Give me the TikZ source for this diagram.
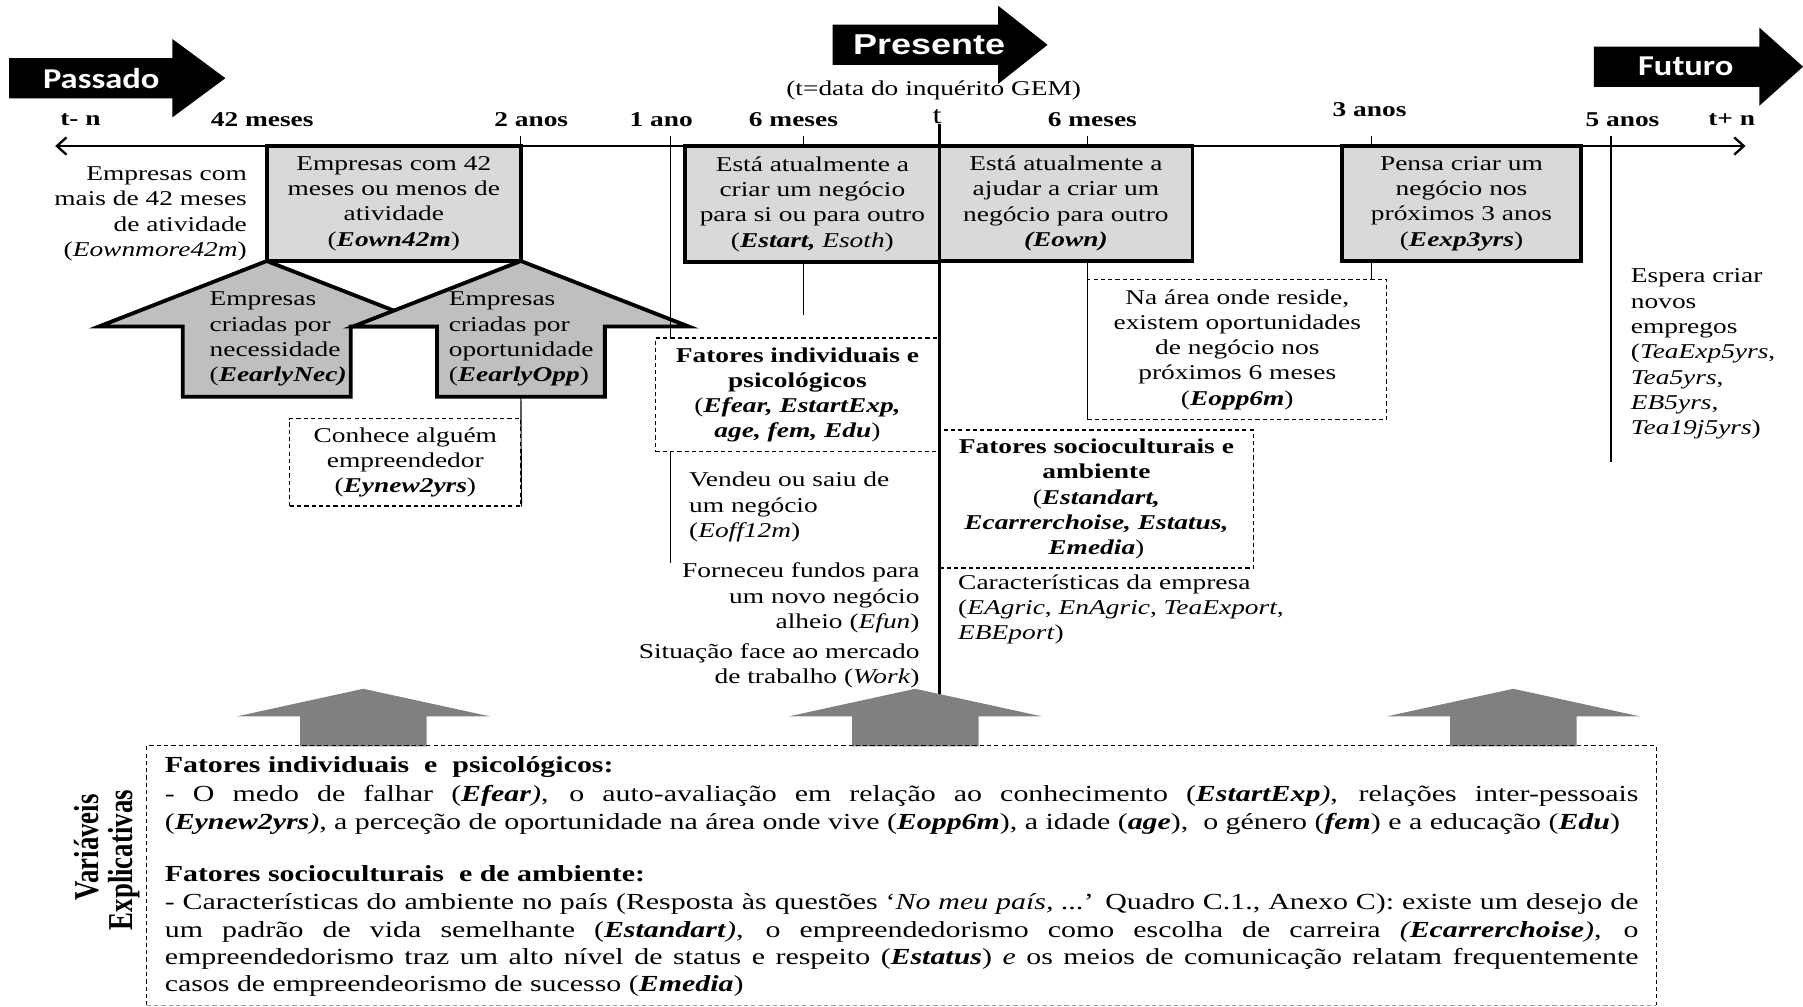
\documentclass[tikz,border=0pt]{standalone}
\usepackage{graphicx}
\usepackage{fontspec}
\setmainfont{Liberation Serif}[FakeStretch=1.3]
\newfontfamily\plainserif{Liberation Serif}
\newfontfamily\calsans{Carlito}[FakeStretch=1.2]
\newfontfamily\arialsans{Liberation Sans}[FakeStretch=1.25]
\usetikzlibrary{arrows.meta}
\newcommand\pxu{0.6pt}
\newcommand\bi[1]{\textbf{\textit{#1}}}

\begin{document}
\begin{tikzpicture}[x=0.6pt, y=-0.6pt, line join=miter,
	every node/.style={inner sep=0pt},
	txt/.style={font=\fontsize{11}{13.2}\selectfont, align=center},
	lbl/.style={font=\fontsize{11}{13.2}\selectfont\bfseries},
	bottxt/.style={font=\fontsize{12}{14.4}\selectfont, anchor=base west},
	graybox/.style={draw, line width=2pt, fill=black!15, txt},
	dashbox/.style={draw, line width=0.6pt, dash pattern=on 2.2pt off 1.6pt, fill=white, txt},
	dashline/.style={line width=0.6pt, dash pattern=on 2.2pt off 1.6pt},
	vline/.style={line width=0.6pt},
	grayarrow/.style={draw, line width=2pt, fill=black!25},
	timeaxis/.style={line width=1.2pt, {Straight Barb[length=5pt,width=9pt]}-{Straight Barb[length=5pt,width=9pt]}}]
	\useasboundingbox (0,0) rectangle (1568,875);
	
	% Setas pretas (passado, presente, futuro)
	\foreach \xa/\ya/\len/\tip in {8/68/142/196, 724/39/144/911, 1386/58/144/1568}
	\fill (\xa,\ya-17.5) -- (\xa+\len,\ya-17.5) -- (\xa+\len,\ya-34) -- (\tip,\ya)
	-- (\xa+\len,\ya+34) -- (\xa+\len,\ya+17.5) -- (\xa,\ya+17.5) -- cycle;
	\node[font=\calsans\bfseries\fontsize{15}{18}\selectfont, text=white] (passado) at (88,68) {Passado};
	\node[font=\arialsans\bfseries\fontsize{15}{18}\selectfont, text=white] (presente) at (808,39) {Presente};
	\node[font=\calsans\bfseries\fontsize{15}{18}\selectfont, text=white] (futuro) at (1466,58) {Futuro};
	
	% Eixo do tempo
	\coordinate (tl) at (48,127);
	\coordinate (tr) at (1518,127);
	\coordinate (a2) at (453,118);
	\coordinate (a1) at (583,118);
	\coordinate (a1end) at (583,490);
	\coordinate (m6a) at (699,118);
	\coordinate (m6aend) at (699,274);
	\coordinate (tt) at (817,108);
	\coordinate (tend) at (817,608);
	\coordinate (m6b) at (946,118);
	\coordinate (a3) at (1193,118);
	\coordinate (a5) at (1401,118);
	\coordinate (a5end) at (1401,402);
	
	\foreach \x/\y/\lab [count=\i] in {70/104/t- n, 228/104/42 meses, 462/104/2 anos, 575/104/1 ano,
		690/104/6 meses, 950/104/6 meses, 1191/95/3 anos, 1411/104/5 anos, 1506/104/t+ n}
	\node[lbl] (lab\i) at (\x,\y) {\lab};
	\node[txt] (gem) at (812,79) {(t=data do inquérito GEM)};
	\node[font=\fontsize{13}{15}\selectfont] (tlab) at (815,101) {t};
	
	\foreach \p in {a2, m6a, m6b, a3}
	\draw[vline] (\p) -- (\p |- tl);
	\draw[vline] (m6a) -- (m6aend);
	\draw[vline] (a5) -- (a5end);
	\draw[timeaxis] (tl) -- (tr);
	
	% Caixas cinzentas
	\node[graybox, minimum width=221*\pxu, minimum height=100*\pxu] (eown42) at (342.5,177)
	{Empresas com 42\\meses ou menos de\\atividade\\(\bi{Eown42m})};
	\node[graybox, minimum width=221*\pxu, minimum height=101*\pxu] (estart) at (706.5,177.5)
	{Está atualmente a\\criar um negócio\\para si ou para outro\\(\bi{Estart,} \textit{Esoth})};
	\node[graybox, minimum width=220*\pxu, minimum height=100*\pxu] (eown) at (927,177)
	{Está atualmente a\\ajudar a criar um\\negócio para outro\\\bi{(Eown)}};
	\node[graybox, minimum width=208*\pxu, minimum height=100*\pxu] (eexp) at (1271,177)
	{Pensa criar um\\negócio nos\\próximos 3 anos\\(\bi{Eexp3yrs})};
	\node[txt, align=right, anchor=east] (more42) at (215,186)
	{Empresas com\\mais de 42 meses\\de atividade\\(\textit{Eownmore42m})};
	
	% Setas de necessidade e oportunidade
	\foreach \c/\nm in {232/nec, 453/opp} {
		\filldraw[grayarrow] (\c,227) -- (\c+146,284) -- (\c+73,284) -- (\c+73,345)
		-- (\c-73,345) -- (\c-73,284) -- (\c-146,284) -- cycle;
		\coordinate (\nm) at (\c,345);
	}
	\node[txt, align=left, anchor=west] (nectxt) at (182,295)
	{Empresas\\criadas por\\necessidade\\(\bi{EearlyNec)}};
	\node[txt, align=left, anchor=west] (opptxt) at (390,295)
	{Empresas\\criadas por\\oportunidade\\(\bi{EearlyOpp})};
	
	% Caixas tracejadas
	\draw[vline] (a1) -- (a1end);
	\node[dashbox, minimum width=201*\pxu, minimum height=76*\pxu] (eynew) at (352.5,402)
	{Conhece alguém\\empreendedor\\(\bi{Eynew2yrs})};
	\draw[vline] (opp) -- (eynew.south east);
	\node[dashbox, minimum width=247*\pxu, minimum height=99*\pxu] (fatind) at (693.5,343.5)
	{\textbf{Fatores individuais e}\\\textbf{psicológicos}\\(\bi{Efear, EstartExp,}\\\bi{age, fem, Edu})};
	\node[dashbox, minimum width=260*\pxu, minimum height=122*\pxu] (eopp) at (1076,304)
	{Na área onde reside,\\existem oportunidades\\de negócio nos\\próximos 6 meses\\(\bi{Eopp6m})};
	\node[dashbox, minimum width=273*\pxu, minimum height=120*\pxu] (fatsoc) at (953.5,434)
	{\textbf{Fatores socioculturais e}\\\textbf{ambiente}\\(\bi{Estandart,}\\\bi{Ecarrerchoise, Estatus,}\\\bi{Emedia})};
	\draw[vline] (estart.south -| m6a) -- (m6aend);
	\draw[vline] (eown.south -| m6b) -- (m6b |- eopp.south);
	\draw[vline] (eexp.south -| a3) -- (a3 |- eopp.north);
	
	% Textos soltos
	\node[txt, align=left, anchor=west] (eoff) at (599,441)
	{Vendeu ou saiu de\\um negócio\\(\textit{Eoff12m})};
	\node[txt, align=right, anchor=east] (efun) at (800,520)
	{Forneceu fundos para\\um novo negócio\\alheio (\textit{Efun})};
	\node[txt, align=right, anchor=east] (work) at (800,579)
	{Situação face ao mercado\\de trabalho (\textit{Work})};
	\node[txt, align=left, anchor=west] (caract) at (833,530)
	{Características da empresa\\(\textit{EAgric}, \textit{EnAgric}, \textit{TeaExport},\\\textit{EBEport})};
	\node[txt, align=left, anchor=west] (espera) at (1418,308)
	{Espera criar\\novos\\empregos\\(\textit{TeaExp5yrs},\\\textit{Tea5yrs},\\\textit{EB5yrs},\\\textit{Tea19j5yrs})};
	
	% Linha do presente
	\draw[line width=1.5pt] (tt) -- (tend);
	
	% Setas das variáveis explicativas
	\foreach \c in {316, 796, 1316}
	\fill[black!50] (\c,599) -- (\c+110,623) -- (\c+55,623) -- (\c+55,649)
	-- (\c-55,649) -- (\c-55,623) -- (\c-110,623) -- cycle;
	
	\node[minimum width=1312*\pxu, minimum height=225*\pxu] (expl) at (784,761.5) {};
	\draw[dashline] (expl.south west) -- (expl.north west) -- (expl.north east) -- (expl.south east);
	\draw[dashline, black!40] (expl.south west) -- (expl.south east);
	
	\node[bottxt] (l1) at (143,672) {\textbf{Fatores individuais\ \ e\ \ psicológicos:}};
	\node[bottxt] (l2) at (143,697) {\makebox[769pt][s]{- O medo de falhar (\bi{Efear}\textit{)}, o auto-avaliação em relação ao conhecimento (\bi{EstartExp}\textit{)}, relações inter-pessoais}};
	\node[bottxt] (l3) at (143,721) {(\bi{Eynew2yrs}\textit{)}, a perceção de oportunidade na área onde vive (\bi{Eopp6m}), a idade (\bi{age}),\ \ o género (\bi{fem}) e a educação (\bi{Edu})};
	\node[bottxt] (l4) at (143,767) {\textbf{Fatores socioculturais\ \ e de ambiente:}};
	\node[bottxt] (l5) at (143,791) {\makebox[769pt][s]{- Características do ambiente no país (Resposta às questões ‘\textit{No meu país, ...}’ Quadro C.1., Anexo C): existe um desejo de}};
	\node[bottxt] (l6) at (143,815) {\makebox[769pt][s]{um padrão de vida semelhante (\bi{Estandart}\textit{)}, o empreendedorismo como escolha de carreira \textit{(\textbf{Ecarrerchoise})}, o}};
	\node[bottxt] (l7) at (143,839) {\makebox[769pt][s]{empreendedorismo traz um alto nível de status e respeito (\bi{Estatus}) \textit{e} os meios de comunicação relatam frequentemente}};
	\node[bottxt] (l8) at (143,862) {casos de empreendeorismo de sucesso (\bi{Emedia})};
	
	\node[rotate=90] (var) at (75,737) {\scalebox{1}[1.3]{\plainserif\bfseries\fontsize{14}{16}\selectfont Variáveis}};
	\node[rotate=90] (explic) at (108,748) {\scalebox{1}[1.3]{\plainserif\bfseries\fontsize{14}{16}\selectfont Explicativas}};
\end{tikzpicture}
\end{document}
